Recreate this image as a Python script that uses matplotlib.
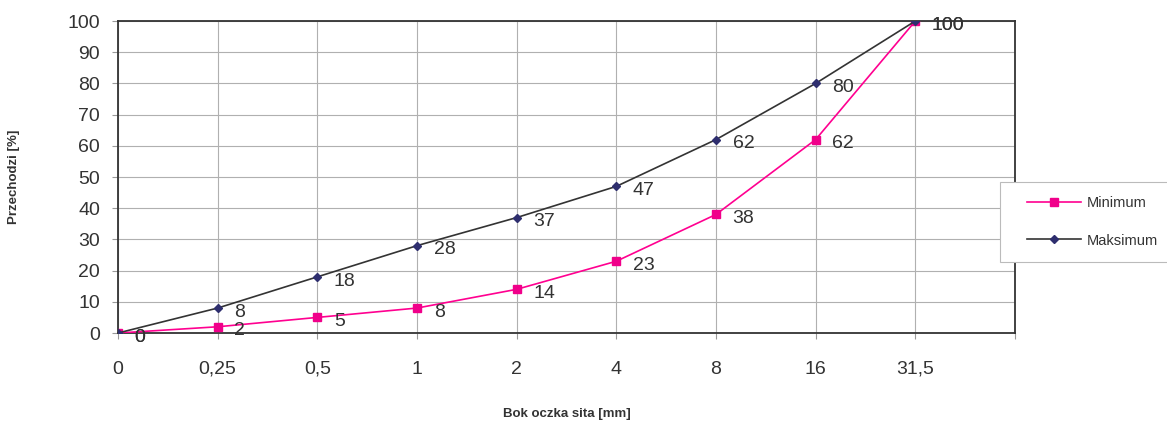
import matplotlib
matplotlib.use("Agg")
import matplotlib.pyplot as plt
from matplotlib.patches import Rectangle

plt.rcParams['font.family'] = ['Liberation Sans', 'DejaVu Sans']

sieve_labels = ['0', '0,25', '0,5', '1', '2', '4', '8', '16', '31,5']
minimum = [0, 2, 5, 8, 14, 23, 38, 62, 100]
maksimum = [0, 8, 18, 28, 37, 47, 62, 80, 100]

fig = plt.figure(figsize=(11.67, 4.21), dpi=100)
ax = fig.add_axes([0.1011, 0.209, 0.7686, 0.741])

x = list(range(len(sieve_labels)))

ax.plot(x, minimum, color='#ff0090', lw=1.2, marker='s', ms=5.5,
        markerfacecolor='#f0008a', markeredgecolor='#f0008a', label='Minimum', zorder=3)
ax.plot(x, maksimum, color='#333333', lw=1.2, marker='D', ms=4,
        markerfacecolor='#2e2e6e', markeredgecolor='#2e2e6e', label='Maksimum', zorder=4)

# etykiety wartosci - jak w oryginale nakladaja sie dla 0 i 100
for series in (minimum, maksimum):
    for xi, v in zip(x, series):
        ax.annotate(str(v), (xi, v), xytext=(12, -3), textcoords='offset points',
                    fontsize=14, color='#333333', va='center', ha='left')

ax.set_xlim(0, 9)
ax.set_ylim(0, 100)
ax.set_xticks(x + [9])
ax.set_xticklabels(sieve_labels + [''])
ax.set_yticks(range(0, 101, 10))
ax.tick_params(axis='both', labelsize=14, colors='#999999', labelcolor='#333333',
               length=4, width=0.8)
ax.tick_params(axis='x', pad=16)
ax.tick_params(axis='y', pad=9)

ax.grid(True, color='#b0b0b0', lw=0.8)
ax.set_axisbelow(True)
for s in ax.spines.values():
    s.set_color('#333333')
    s.set_linewidth(1.3)

ax.set_xlabel('Bok oczka sita [mm]', fontsize=9.5, fontweight='bold', color='#333333', labelpad=22)
ax.set_ylabel('Przechodzi [%]', fontsize=9.5, fontweight='bold', color='#333333', labelpad=34)

# ramka legendy jak w oryginale (dochodzi do prawej krawedzi)
fig.patches.append(Rectangle((0.857, 0.378), 0.2, 0.19, transform=fig.transFigure,
                             facecolor='white', edgecolor='#bbbbbb', lw=0.8, zorder=0))
leg = fig.legend(loc='center', bbox_to_anchor=(0.936, 0.473), frameon=False,
                 fontsize=10.5, handlelength=3.7, handletextpad=0.4,
                 labelspacing=1.6, borderpad=0, borderaxespad=0)
for t in leg.get_texts():
    t.set_color('#333333')

fig.savefig('out.png', dpi=100)
